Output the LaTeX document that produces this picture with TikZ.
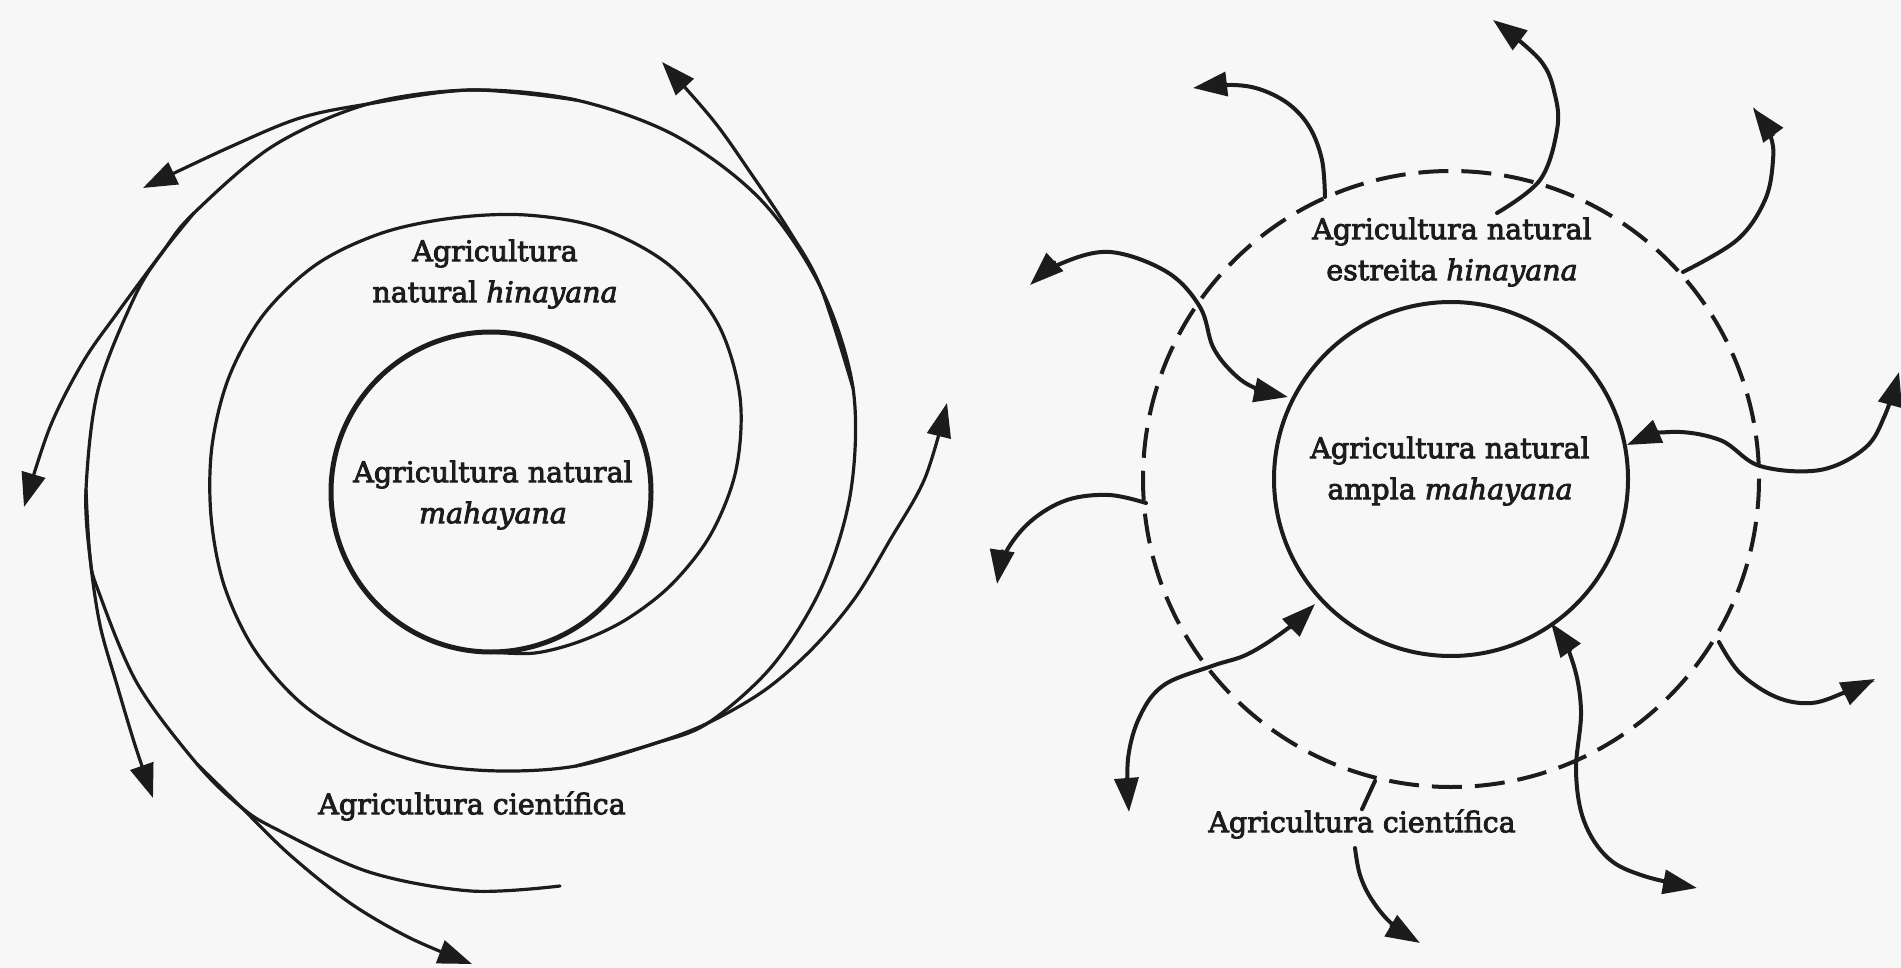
\documentclass[tikz,border=0pt]{standalone}
\usepackage{fontspec}
\setmainfont{DejaVu Serif}
\newfontfamily\inkfont{DejaVu Serif}[FakeBold=3]
\usetikzlibrary{arrows.meta}
\definecolor{inkc}{HTML}{1C1C1C}
\definecolor{paper}{HTML}{F7F7F7}
\begin{document}
\begin{tikzpicture}[x=1pt, y=-1pt,
  >={Triangle[length=34pt,width=24pt]},
  coreline/.style={draw=inkc, line width=5pt},
  ringline/.style={draw=inkc, line width=3.2pt, line cap=round},
  flowline/.style={draw=inkc, line width=4pt, line cap=round},
  haloline/.style={draw=inkc, line width=4pt, dash pattern=on 30pt off 13pt},
  lettering/.style={font=\inkfont\fontsize{28.5}{41}\selectfont, align=center, text=inkc, inner sep=0pt}]

\fill[paper] (0,0) rectangle (1901,968);
\useasboundingbox (0,0) rectangle (1901,968);

% ---------- left: spiral of natural farming ----------
\coordinate (L) at (491,492);
\coordinate (Ljoin) at (708,723);
\coordinate (Larm) at (947,403);
\coordinate (Ltop) at (368,104);
\coordinate (Lw) at (164,250);
\coordinate (Lsw) at (90,557);
\coordinate (Lfork) at (241,807);
\coordinate (Lne) at (821,288);

\draw[coreline] (L) circle[radius=160];

% spiral turn leaving the core and sweeping out to the right
\draw[ringline,->] plot[smooth,tension=0.55] coordinates {(491,652) (535,653) (581,641) (627,619) (672,584) (711,534) (736,470) (740,397) (718,324) (669,265) (600,228) (526,215) (453,218) (382,233) (317,264) (264,314) (229,377) (212,446) (211,516) (224,585) (254,649) (301,703) (361,741) (429,764) (501,771) (576,766) (653,744) (Ljoin) (765,690) (813,648) (855,598) (890,540) (925,478) (Larm)};

% outer ring
\draw[ringline] plot[smooth,tension=0.55] coordinates {(576,766) (653,744) (Ljoin) (773,665) (823,584) (851,490) (853,388) (Lne) (761,200) (676,136) (576,100) (471,90) (Ltop) (273,146) (194,213) (Lw) (135,296) (98,390) (86,490) (Lsw) (98,590) (137,683) (197,764) (Lfork) (276,829) (369,872) (471,891) (560,886)};

% branches thrown off the outer ring
\draw[ringline,->] plot[smooth,tension=0.55] coordinates {(576,100) (471,90) (Ltop) (300,118) (230,147) (143,188)};
\draw[ringline,->] plot[smooth,tension=0.55] coordinates {(194,213) (Lw) (118,312) (83,362) (50,427) (24,507)};
\draw[ringline,->] plot[smooth,tension=0.55] coordinates {(86,490) (Lsw) (100,625) (117,685) (135,745) (153,798)};
\draw[ringline,->] plot[smooth,tension=0.55] coordinates {(197,764) (Lfork) (290,855) (350,903) (410,938) (472,964)};
\draw[ringline,->] plot[smooth,tension=0.55] coordinates {(853,388) (Lne) (790,232) (750,172) (713,120) (662,62)};

\node[lettering] (lhina) at (495,274) {Agricultura\\natural \textit{hinayana}};
\node[lettering] (lmaha) at (493,495) {Agricultura natural\\\textit{mahayana}};
\node[lettering] (lsci) at (472,806) {Agricultura científica};

% ---------- right: concentric view ----------
\coordinate (R) at (1451,479);
\draw[flowline] (R) circle[radius=177];
\draw[haloline] (R) circle[radius=308];

\draw[flowline,->] plot[smooth,tension=0.6] coordinates {(1325,197) (1322,160) (1310,128) (1290,105) (1262,90) (1233,85) (1193,88)};
\draw[flowline,<->] plot[smooth,tension=0.6] coordinates {(1030,285) (1060,264) (1110,252) (1167,272) (1200,307) (1213,347) (1233,373) (1255,388) (1288,397)};
\draw[flowline,->] plot[smooth,tension=0.6] coordinates {(1497,213) (1540,180) (1557,130) (1555,95) (1540,60) (1493,20)};
\draw[flowline,->] plot[smooth,tension=0.6] coordinates {(1683,272) (1737,240) (1765,200) (1773,160) (1770,135) (1753,108)};
\draw[flowline,<->] plot[smooth,tension=0.6] coordinates {(1627,445) (1670,432) (1720,440) (1760,466) (1820,470) (1865,448) (1885,415) (1899,372)};
\draw[flowline,->] plot[smooth,tension=0.6] coordinates {(1146,503) (1109,495) (1067,500) (1031,521) (1006,552) (997,584)};
\draw[flowline,<->] plot[smooth,tension=0.6] coordinates {(1315,604) (1287,629) (1248,654) (1212,666) (1164,685) (1140,716) (1128,759) (1129,812)};
\draw[flowline,<->] plot[smooth,tension=0.6] coordinates {(1551,623) (1572,660) (1581,710) (1576,771) (1584,821) (1608,858) (1644,876) (1697,888)};
\draw[flowline,->] plot[smooth,tension=0.6] coordinates {(1719,642) (1740,673) (1776,697) (1812,703) (1848,691) (1875,679)};

\node[lettering] (rhina) at (1452,252) {Agricultura natural\\estreita \textit{hinayana}};
\node[lettering] (rmaha) at (1450,471) {Agricultura natural\\ampla \textit{mahayana}};
\node[lettering] (rsci) at (1362,824) {Agricultura científica};

\draw[flowline] (1375,781) -- (rsci.north -| 1362,0);
\draw[flowline,->] plot[smooth,tension=0.6] coordinates {(1355,848) (1360,875) (1372,900) (1392,924) (1420,943)};
\end{tikzpicture}
\end{document}
